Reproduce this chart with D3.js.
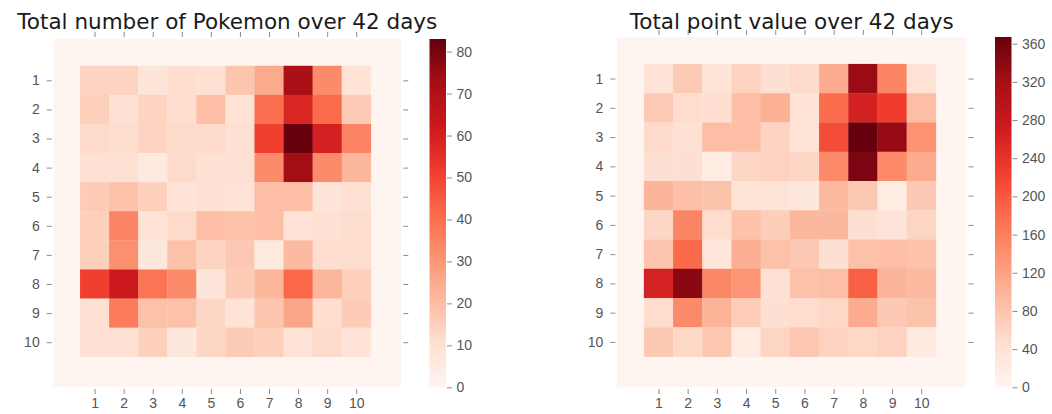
<!DOCTYPE html>
<html>
<head>
<meta charset="utf-8">
<script src="https://cdn.jsdelivr.net/npm/d3@7"></script>
<style>
  body { margin: 0; background: #fff; }
  svg { font-family: "DejaVu Sans", sans-serif; }
  .axis path.domain { display: none; }
  .axis line { stroke: #8c8c8c; }
  .axis text { fill: #555; font-size: 14px; }
</style>
</head>
<body>
<div id="chart"></div>
<script>
// data (rows = y label 1..10 top to bottom, cols = x label 1..10)
const labels = ["1", "2", "3", "4", "5", "6", "7", "8", "9", "10"];
const pokemonCounts = [
  [14, 14, 8, 11, 10, 18, 25, 71, 33, 9],
  [15, 10, 14, 11, 20, 9, 40, 58, 41, 16],
  [12, 11, 14, 12, 12, 10, 51, 83, 60, 35],
  [10, 10, 6, 12, 10, 10, 33, 73, 33, 22],
  [16, 19, 15, 9, 10, 9, 20, 20, 8, 10],
  [15, 35, 9, 12, 20, 19, 20, 9, 10, 11],
  [15, 32, 7, 19, 14, 17, 6, 21, 11, 11],
  [51, 62, 39, 33, 8, 16, 22, 42, 22, 15],
  [10, 37, 19, 19, 13, 9, 18, 26, 11, 16],
  [10, 10, 15, 7, 13, 16, 15, 9, 12, 9]
];
const pointValues = [
  [40, 73, 38, 63, 45, 52, 110, 330, 153, 40],
  [73, 50, 47, 88, 103, 40, 180, 265, 228, 88],
  [52, 44, 88, 88, 61, 38, 213, 367, 332, 138],
  [45, 45, 20, 58, 63, 58, 147, 352, 147, 110],
  [99, 85, 82, 38, 38, 30, 92, 76, 18, 74],
  [58, 153, 50, 83, 68, 95, 95, 45, 37, 60],
  [80, 183, 32, 106, 84, 74, 46, 84, 88, 83],
  [264, 342, 150, 135, 44, 84, 87, 194, 99, 92],
  [50, 147, 100, 70, 45, 49, 57, 110, 74, 82],
  [75, 55, 78, 22, 60, 78, 63, 56, 63, 24]
];
const countTicks = [0, 10, 20, 30, 40, 50, 60, 70, 80];
const pointTicks = [0, 40, 80, 120, 160, 200, 240, 280, 320, 360];
const countMax = 83;
const pointMax = 367;

// matplotlib "Reds"
const redsStops = ["#fff5f0", "#fee0d2", "#fcbba1", "#fc9272", "#fb6a4a",
                   "#ef3b2c", "#cb181d", "#a50f15", "#67000d"];

const svg = d3.select("#chart").append("svg")
    .attr("width", 1052)
    .attr("height", 414);

function drawPanel(cfg) {
    const g = svg.append("g");
    const color = d3.scaleLinear()
        .domain(redsStops.map((d, i) => i / 8 * cfg.vmax))
        .range(redsStops)
        .interpolate(d3.interpolateRgb)
        .clamp(true);
    const x = d3.scaleLinear().domain([-0.42, 11.55]).range([cfg.x0, cfg.x0 + cfg.w]);
    const y = d3.scaleLinear().domain([-0.42, 11.55]).range([cfg.y0, cfg.y0 + cfg.h]);

    // padded background (value 0)
    g.append("rect")
        .attr("x", x(-0.42)).attr("y", y(-0.42))
        .attr("width", x(11.55) - x(-0.42))
        .attr("height", y(11.55) - y(-0.42))
        .attr("fill", color(0));

    const cells = [];
    cfg.values.forEach((row, r) => row.forEach((v, c) => cells.push({ r: r + 1, c: c + 1, v })));
    g.selectAll("rect.cell")
        .data(cells)
        .enter()
        .append("rect")
        .attr("class", "cell")
        .attr("x", (d) => x(d.c - 0.5))
        .attr("y", (d) => y(d.r - 0.5))
        .attr("width", (d) => x(d.c + 0.5) - x(d.c - 0.5) + 0.3)
        .attr("height", (d) => y(d.r + 0.5) - y(d.r - 0.5) + 0.3)
        .attr("fill", (d) => color(d.v));

    const ticks = labels.map((d, i) => i + 1);
    g.append("g").attr("class", "axis")
        .attr("transform", `translate(${cfg.x0 - 1.6},0)`)
        .call(d3.axisLeft(y).tickValues(ticks).tickSize(5).tickPadding(7).tickFormat((d) => labels[d - 1]));
    g.append("g").attr("class", "axis")
        .attr("transform", `translate(${cfg.x0 + cfg.w + 2},0)`)
        .call(d3.axisRight(y).tickValues(ticks).tickSize(5).tickFormat(""));
    g.append("g").attr("class", "axis")
        .attr("transform", `translate(0,${cfg.y0 - 2})`)
        .call(d3.axisTop(x).tickValues(ticks).tickSize(5).tickFormat(""));
    g.append("g").attr("class", "axis")
        .attr("transform", `translate(0,${cfg.y0 + cfg.h + 1.7})`)
        .call(d3.axisBottom(x).tickValues(ticks).tickSize(5).tickPadding(4.5).tickFormat((d) => labels[d - 1]));

    g.append("text")
        .attr("x", cfg.x0 + cfg.w / 2)
        .attr("y", 29)
        .attr("text-anchor", "middle")
        .style("font-size", "21.5px")
        .style("fill", "#1a1a1a")
        .text(cfg.title);

    // colorbar
    const cb = d3.scaleLinear().domain([0, cfg.vmax]).range([cfg.cbBottom, cfg.y0]);
    const gradId = "grad" + cfg.id;
    const grad = svg.append("defs").append("linearGradient")
        .attr("id", gradId)
        .attr("x1", 0).attr("y1", 1).attr("x2", 0).attr("y2", 0);
    grad.selectAll("stop")
        .data(redsStops)
        .enter()
        .append("stop")
        .attr("offset", (d, i) => i / 8)
        .attr("stop-color", (d) => d);
    g.append("rect")
        .attr("x", cfg.cbX).attr("y", cb(cfg.vmax))
        .attr("width", 16.5)
        .attr("height", cb(0) - cb(cfg.vmax))
        .attr("fill", `url(#${gradId})`);
    g.append("g").attr("class", "axis")
        .attr("transform", `translate(${cfg.cbX + 17.5},0)`)
        .call(d3.axisRight(cb).tickValues(cfg.cbTicks).tickSize(5).tickPadding(4.5));
}

drawPanel({
    id: 1, title: "Total number of Pokemon over 42 days", values: pokemonCounts,
    vmax: countMax, cbTicks: countTicks,
    x0: 53.3, w: 348, y0: 39, h: 348.3, cbX: 429.5, cbBottom: 387.3
});
drawPanel({
    id: 2, title: "Total point value over 42 days", values: pointValues,
    vmax: pointMax, cbTicks: pointTicks,
    x0: 617, w: 349.5, y0: 37, h: 350.3, cbX: 995, cbBottom: 387.3
});
</script>
</body>
</html>
